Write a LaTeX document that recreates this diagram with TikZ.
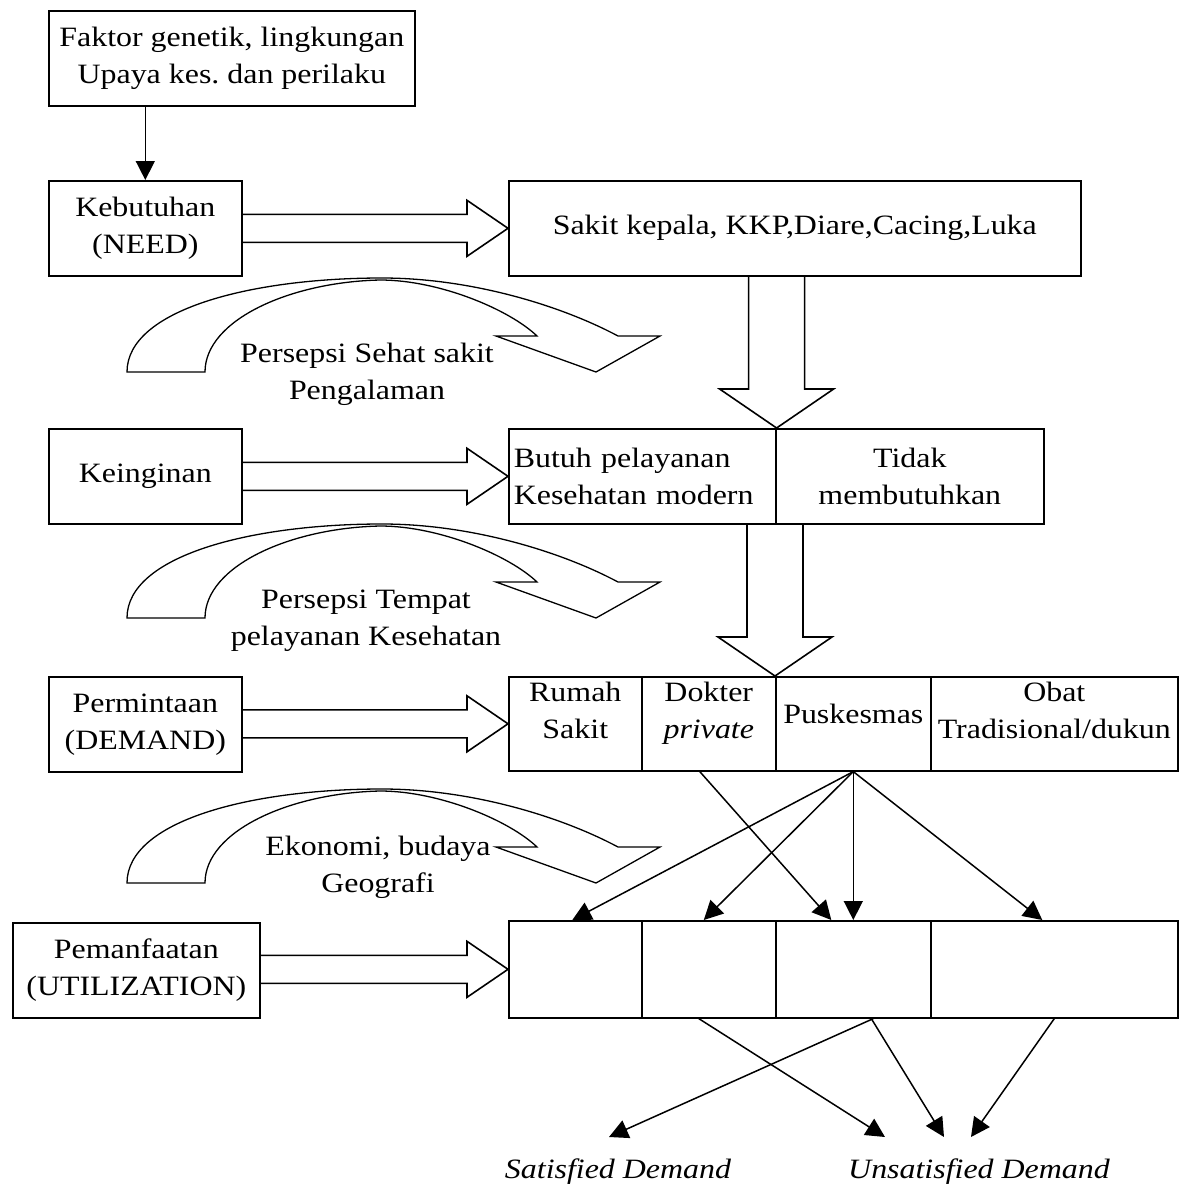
\documentclass[tikz,border=0pt]{standalone}
\usepackage{fontspec}
\setmainfont{Liberation Serif}[FakeStretch=1.14]
\usetikzlibrary{calc,arrows.meta}
\newcommand\txt{\fontsize{28}{37}\selectfont}

% curved block arrow (outer arc, arrow head, inner arc), shifted down by #1
\newcommand\bendarrow[1]{%
  \draw[shift={(0,#1)}, line width=1.3pt, line join=miter]
    (127,372) .. controls (127,310) and (250,278) .. (382,278)
    .. controls (470,278) and (560,305) .. (618,336)
    -- (660,336) -- (596,372) -- (496,336) -- (537,336)
    .. controls (510,310) and (440,280) .. (380,280)
    .. controls (290,282) and (205,320) .. (205,372) -- cycle;}

% hollow block arrow pointing right, from node #1 to anchor #2
\newcommand\hollowright[2]{%
  \draw[line join=miter]
    ($(#1.east |- #2)+(0,-14)$) -- ($(#2)+(-41,-14)$) -- ($(#2)+(-41,-28)$)
    -- (#2) -- ($(#2)+(-41,28)$) -- ($(#2)+(-41,14)$) -- ($(#1.east |- #2)+(0,14)$);}

% hollow block arrow pointing down, from node #1 to anchor #2
\newcommand\hollowdown[2]{%
  \draw[line join=miter]
    ($(#1.south -| #2)+(-28,0)$) -- ($(#2)+(-28,-39)$) -- ($(#2)+(-57,-39)$)
    -- (#2) -- ($(#2)+(57,-39)$) -- ($(#2)+(28,-39)$) -- ($(#1.south -| #2)+(28,0)$);}

\begin{document}
\begin{tikzpicture}[x=1pt,y=-1pt,
  line width=1.6pt,
  box/.style={draw, inner sep=0pt, anchor=north west, font=\txt, align=center},
  txt/.style={inner sep=0pt, font=\txt, align=center},
  tip/.style={-{Triangle[length=19pt,width=19pt]}, line width=1.5pt},
]
\useasboundingbox (0,0) rectangle (1180,1187);

% left column
\node[box, minimum width=366pt, minimum height=95pt] (fak) at (48,10)
  {Faktor genetik, lingkungan\\Upaya kes.\ dan perilaku};
\node[box, minimum width=193pt, minimum height=95pt] (need) at (48,180) {Kebutuhan\\(NEED)};
\node[box, minimum width=193pt, minimum height=95pt] (want) at (48,428) {Keinginan};
\node[box, minimum width=193pt, minimum height=95pt] (dem) at (48,676) {Permintaan\\(DEMAND)};
\node[box, minimum width=247pt, minimum height=95pt] (use) at (12,922) {Pemanfaatan\\(UTILIZATION)};

% right column
\node[box, minimum width=572pt, minimum height=95pt] (sakit) at (508,180)
  {Sakit kepala, KKP,Diare,Cacing,Luka};
\node[box, minimum width=267pt, minimum height=95pt, text width=257pt, align=left] (butuh) at (508,428)
  {Butuh pelayanan\\Kesehatan modern};
\node[box, minimum width=268pt, minimum height=95pt] (tidak) at (775,428) {Tidak\\membutuhkan};

% demand row
\node[box, minimum width=133pt, minimum height=94pt,
  label={[txt, name=rsT, yshift=13pt]center:Rumah\\Sakit}] (rs) at (508,676) {};
\node[box, minimum width=134pt, minimum height=94pt,
  label={[txt, name=dokT, yshift=11pt]center:Dokter\\\textit{private}}] (dok) at (641,676) {};
\node[box, minimum width=155pt, minimum height=94pt,
  label={[txt, name=puskT, yshift=10pt]center:Puskesmas}] (pusk) at (775,676) {};
\node[box, minimum width=247pt, minimum height=94pt,
  label={[txt, name=obatT, yshift=13pt]center:Obat\\Tradisional/dukun}] (obat) at (930,676) {};

% utilization row
\node[box, minimum width=133pt, minimum height=97pt] (u1) at (508,920) {};
\node[box, minimum width=134pt, minimum height=97pt] (u2) at (641,920) {};
\node[box, minimum width=155pt, minimum height=97pt] (u3) at (775,920) {};
\node[box, minimum width=247pt, minimum height=97pt] (u4) at (930,920) {};

% factors between the stages
\bendarrow{0}
\bendarrow{246}
\bendarrow{511}
\node[txt] (p1) at (367,374) {Persepsi Sehat sakit\\Pengalaman};
\node[txt] (p2) at (366,621) {Persepsi Tempat\\pelayanan Kesehatan};
\node[txt] (p3) at (378,867) {Ekonomi, budaya\\Geografi};

% main flow
\draw[tip] (fak.south -| need.north) -- (need.north);
\hollowright{need}{sakit.west}
\hollowright{want}{butuh.west}
\hollowright{dem}{rs.west}
\hollowright{use}{u1.west}
\hollowdown{sakit}{butuh.north east}
\hollowdown{butuh}{pusk.north west}

% from demand to utilization
\draw[tip] (pusk.south) -- ($(u1.north)+(-3,0)$);
\draw[tip] (pusk.south) -- ($(u2.north)+(-5,0)$);
\draw[tip] ($(dok.south)+(-9,0)$) -- ($(u3.north)+(-22,0)$);
\draw[tip] (pusk.south) -- (u3.north);
\draw[tip] (pusk.south) -- ($(u4.north)+(-12,0)$);

% outcome
\node[txt, font=\txt\itshape] (satl) at (618,1172) {Satisfied Demand};
\node[txt, font=\txt\itshape] (unsl) at (979,1172) {Unsatisfied Demand};
\coordinate (sd) at (609,1137);
\coordinate (ud1) at (885,1137);
\coordinate (ud2) at (944,1137);
\coordinate (ud3) at (971,1137);
\draw[tip] ($(u2.south)+(-10,0)$) -- (ud1);
\draw[tip] ($(u3.south)+(20,0)$) -- (sd);
\draw[tip] ($(u3.south)+(18,0)$) -- (ud2);
\draw[tip] (u4.south) -- (ud3);
\end{tikzpicture}
\end{document}
